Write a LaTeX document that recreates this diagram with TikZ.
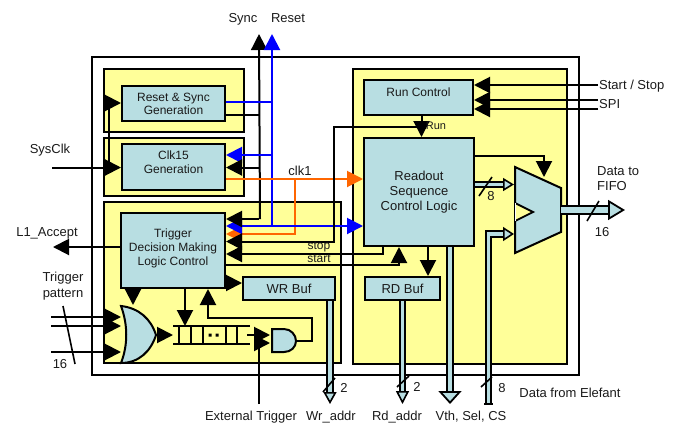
\documentclass[tikz,border=0pt]{standalone}
\usepackage{fontspec}
\setmainfont{Liberation Sans}
\usetikzlibrary{arrows.meta}
\definecolor{panelY}{HTML}{FFFF99}
\definecolor{boxT}{HTML}{B8DEE2}
\definecolor{myOrange}{HTML}{FF6600}
\definecolor{myBlue}{HTML}{0000FF}
\definecolor{ink}{HTML}{1A1A1A}
\tikzset{
  x=1pt,y=-1pt,
  panel/.style={draw=black,fill=panelY,line width=2pt,inner sep=0pt,anchor=center},
  box/.style={draw=black,fill=boxT,line width=2pt,inner sep=0pt,align=center,text=ink},
  fs/.style={font=\fontsize{12}{14}\selectfont},
  fm/.style={font=\fontsize{13}{15}\selectfont},
  lbl/.style={fm,inner sep=0pt,align=center,text=ink,yshift=-1pt},
  lbs/.style={fs,inner sep=0pt,align=center,text=ink},
  conn/.style={line width=2pt,draw=black,line cap=butt,line join=miter},
  tip/.style={-{Triangle[length=16pt,width=16pt]}},
  ar/.style={conn,tip},
  bl/.style={conn,draw=myBlue,-{Triangle[length=16pt,width=16pt,color=myBlue]}},
  og/.style={conn,draw=myOrange,-{Triangle[length=16pt,width=16pt,color=myOrange]}},
  tick/.style={line width=1.6pt,draw=black},
  bus/.style={line width=1.8pt,draw=black,double=boxT,double distance=4.2pt},
  gate/.style={draw=black,fill=boxT,line width=2pt},
}
\begin{document}
\begin{tikzpicture}
\useasboundingbox (0,0) rectangle (678,424);
% outer frame and panels
\node[draw=black,fill=white,line width=2pt,minimum width=487pt,minimum height=318pt,inner sep=0pt] (outer) at (335.5,216) {};
\node[panel,minimum width=140pt,minimum height=63pt] (pA) at (174,100.5) {};
\node[panel,minimum width=140pt,minimum height=58pt] (pB) at (174,167) {};
\node[panel,minimum width=237pt,minimum height=161pt] (pC) at (222.5,282.5) {};
\node[panel,minimum width=214pt,minimum height=295pt] (pD) at (460,216.5) {};
% boxes
\node[box,fs,minimum width=103pt,minimum height=35pt] (rs) at (173.5,103.5) {Reset \& Sync\\[-1pt]Generation};
\node[box,fs,minimum width=103pt,minimum height=46pt] (clk) at (173.5,167) {Clk15\\Generation\\[-4pt]~};
\node[box,fs,minimum width=104pt,minimum height=75pt] (trig) at (173,250.5) {~\\[-9pt]Trigger\\Decision Making\\Logic Control};
\node[box,fm,minimum width=92pt,minimum height=23pt] (wr) at (289,288.5) {WR Buf};
\node[box,fs,minimum width=109pt,minimum height=35pt] (run) at (418.5,97.5) {Run Control\\[-3pt]~};
\node[box,fm,minimum width=110pt,minimum height=108pt] (ro) at (419,192) {~\\[-5pt]Readout\\Sequence\\Control Logic};
\node[box,fm,minimum width=75pt,minimum height=23pt] (rd) at (402.5,288.5) {RD Buf};
% mux
\coordinate (mA) at (515,167); \coordinate (mB) at (561,188);
\coordinate (mC) at (561,232); \coordinate (mD) at (515,253);
\coordinate (mO) at (561,210);
\draw[gate] (mA) -- (mB) -- (mC) -- (mD) -- cycle;
\fill[panelY] (515,203) -- (533,212) -- (515,221) -- cycle;
\draw[line width=1.8pt] (515,203) -- (533,212) -- (515,221);
\draw[white,line width=1pt] (515,203) -- (515,221);
% OR gate
\coordinate (orOut) at (156,335);
\draw[gate] (121,306) .. controls (128,325) and (128,345) .. (121,363) .. controls (139,363) and (151,351) .. (orOut) .. controls (151,319) and (139,308) .. cycle;
% FIFO
\coordinate (fifoIn) at (173,335); \coordinate (fifoOut) at (247,335);
\draw[conn] (173,326) -- (250,326) (173,344) -- (250,344);
\draw[conn] (179,326) -- (179,344) (191,326) -- (191,344) (203,326) -- (203,344) (226,326) -- (226,344) (237,326) -- (237,344);
\fill (208.5,333.5) rectangle (211.5,336.5) (215.5,333.5) rectangle (218.5,336.5);
% AND gate
\coordinate (andOut) at (296,341);
\draw[gate] (272,329) -- (284,329) .. controls (291,329) and (296,335) .. (andOut) .. controls (296,347) and (291,352) .. (284,352) -- (272,352) -- cycle;
% Sync and Reset
\coordinate (syncTip) at (259,34); \coordinate (resetTip) at (272,34);
\draw[ar] (trig.east |- 0,219) ++(34,0) coordinate (sb) (sb) -- (syncTip);
\draw[bl] (272,226) -- (resetTip);
\draw[conn,draw=myBlue] (rs.east |- 0,102) -- (272,102);
\draw[conn] (rs.east |- 0,115) -- (259,115);
\draw[bl] (272,155) -- (clk.east |- 0,155);
\draw[ar] (259,167.5) -- (clk.east |- 0,167.5);
% clk1
\draw[og] (clk.east |- 0,179) -- (ro.west |- 0,179);
\draw[og] (294.5,179) -- (294.5,234) -- (trig.east |- 0,234);
% reset/blue to trigger and readout
\draw[bl] (272,226) -- (trig.east |- 0,226);
\draw[bl] (272,226) -- (ro.west |- 0,226);
% sync to trigger
\draw[ar] (259,219) -- (trig.east |- 0,219);
% Run line
\draw[ar] (421.5,127) -- (334,127) -- (334,241.5) -- (trig.east |- 0,241.5);
\draw[ar] (run.south -| 421.5,0) -- (ro.north -| 421.5,0);
% stop and start
\draw[ar] (ro.south -| 383,0) -- (383,254) -- (trig.east |- 0,254);
\draw[ar] (trig.east |- 0,265) -- (399,265) -- (ro.south -| 399,0);
% readout to RD buf, WR buf, trigger to OR and FIFO
\draw[ar] (ro.south -| 428,0) -- (rd.north -| 428,0);
\draw[ar] (trig.east |- 0,283) -- (wr.west |- 0,283);
\draw[ar] (trig.south -| 133,0) -- (133,305);
\draw[ar] (trig.south -| 185,0) -- (185,326);
\draw[ar] (orOut) -- (fifoIn);
% and/fifo/external
\draw[ar] (fifoOut) -- (270,335);
\coordinate (extB) at (259,404);
\draw[ar] (extB) -- (259,343) -- (270,343);
\draw[ar] (andOut) -- (312,341) -- (312,318) -- (208,318) -- (trig.south -| 208,0);
% SysClk
\coordinate (sysS) at (52,167.5);
\draw[ar] (sysS) -- (clk.west |- 0,167.5);
\draw[ar] (109,167.5) -- (109,103) -- (rs.west |- 0,103);
% L1
\coordinate (l1T) at (53,247);
\draw[ar] (trig.west |- 0,247) -- (l1T);
% trigger pattern
\coordinate (tp1) at (51,317); \coordinate (tp2) at (51,326); \coordinate (tp3) at (51,352);
\draw[ar] (tp1) -- (121,317);
\draw[ar] (tp2) -- (121,326);
\draw[ar] (tp3) -- (121,352);
\draw[tick] (63,306) -- (75,364);
% Run Control inputs
\coordinate (ss) at (598,85); \coordinate (sp1) at (598,100); \coordinate (sp2) at (598,109);
\draw[ar] (ss) -- (run.east |- ss);
\draw[ar] (sp1) -- (run.east |- sp1);
\draw[ar] (sp2) -- (run.east |- sp2);
% readout to mux control
\draw[ar] (ro.east |- 0,156) -- (544,156) -- (544,177);
% buses
\draw[bus,double distance=3pt,-{Triangle[length=11pt,width=13pt,fill=boxT,line width=1.6pt]}] (ro.east |- 0,184.5) -- (514,184.5);
\draw[bus,double distance=6pt,-{Triangle[length=17pt,width=20pt,fill=boxT,line width=1.8pt]}] (mO) -- (625,210);
\draw[bus,double distance=3.5pt,-{Triangle[length=12pt,width=13pt,fill=boxT,line width=1.6pt]}] (wr.south -| 330,0) -- (330,404);
\draw[bus,double distance=3pt,-{Triangle[length=13pt,width=13pt,fill=boxT,line width=1.6pt]}] (rd.south) -- (rd.south |- 0,404);
\draw[bus,-{Triangle[length=13pt,width=23pt,fill=boxT,line width=1.8pt]}] (ro.south -| 450,0) -- (450,404);
\draw[bus,double distance=3.6pt,-{Triangle[length=11pt,width=14pt,fill=boxT,line width=1.6pt]}] (488.5,404) -- (488.5,234) -- (514,234);
\draw[conn] (484.3,404) -- (492.7,404);
% ticks
\draw[tick] (323,392) -- (335,378);
\draw[tick] (397,387) -- (409,376);
\draw[tick] (481,387) -- (492,377);
\draw[tick] (479,196) -- (492,177);
\draw[tick] (587,221) -- (599,201);
% labels
\node[lbl] (tSync) at (243,18.5) {Sync};
\node[lbl] (tReset) at (288,17.5) {Reset};
\node[lbl] (tSys) at (50,149) {SysClk};
\node[lbl] (tL1) at (47,232) {L1\_Accept};
\node[lbl] (tTP) at (63,285) {Trigger\\[1pt]pattern};
\node[lbl] (t16a) at (60,363) {16};
\node[lbl] (tClk) at (300,170) {clk1};
\node[lbs] (tStop) at (319,247) {stop};
\node[lbs] (tStart) at (319,259) {start};
\node[lbs,font=\fontsize{11}{13}\selectfont] (tRun) at (436,126) {Run};
\node[lbl,anchor=west] (tSS) at (599,85) {Start / Stop};
\node[lbl,anchor=west] (tSPI) at (599,103) {SPI};
\node[lbl,anchor=west,align=left] (tFifo) at (597,177.5) {Data to\\FIFO};
\node[lbl] (t16b) at (602,231) {16};
\node[lbl] (t8a) at (491,195) {8};
\node[lbl] (t2a) at (344,387) {2};
\node[lbl] (t2b) at (417,386) {2};
\node[lbl] (t8b) at (502,387) {8};
\node[lbl] (tEl) at (570,392) {Data from Elefant};
\node[lbl] (tExt) at (251,416) {External Trigger};
\node[lbl] (tWr) at (331,416) {Wr\_addr};
\node[lbl] (tRd) at (397,416) {Rd\_addr};
\node[lbl] (tVth) at (471,416) {Vth, Sel, CS};
\end{tikzpicture}
\end{document}
